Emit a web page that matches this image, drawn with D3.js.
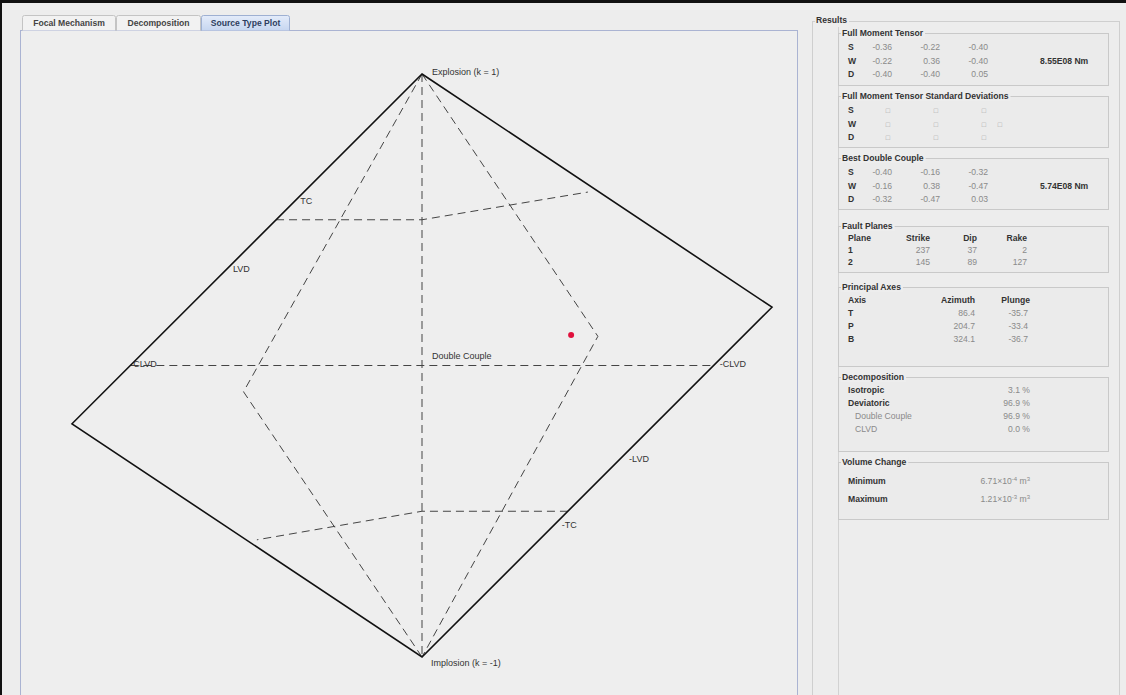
<!DOCTYPE html>
<html><head><meta charset="utf-8">
<script src="https://cdn.jsdelivr.net/npm/d3@7"></script>
<style>
html,body{margin:0;padding:0;background:#ededed;}
svg{display:block;}
</style></head>
<body><svg id="chart" width="1126" height="695"></svg>
<script>
// ---- Source-type plot geometry, in (u, v) space: v = k, u = skewed T axis ----
const boundary   = [[0, 1], [4/3, 0.2], [0, -1], [-4/3, -0.2]];
const kAxis      = [[0, 1], [0, -1]];
const clvdAxis   = [[-10/9, 0], [10/9, 0]];
const upperK     = [[-0.556, 0.5], [0, 0.5], [0.632, 0.595]];
const lowerK     = [[0.556, -0.5], [0, -0.5], [-0.629, -0.598]];
const rightT     = [[0, 1], [0.67, 0.1], [0, -1]];
const leftT      = [[0, 1], [-0.68, -0.09], [0, -1]];
const sourcePoint = [0.568, 0.105];

const pointNames = ["Explosion (k = 1)", "Implosion (k = -1)", "Double Couple", "CLVD", "-CLVD", "TC", "LVD", "-LVD", "-TC"];
const pointU     = [0, 0, 0, -10/9, 10/9, -0.494, -0.747, 0.747, 0.494];
const pointV     = [1, -1, 0, 0, 0, 0.56, 0.328, -0.328, -0.56];

// ---- Results panel values ----
const tensorRows = ["S", "W", "D"];
const fullMT  = [[-0.36, -0.22, -0.40], [-0.22, 0.36, -0.40], [-0.40, -0.40, 0.05]];
const fullM0  = "8.55E08 Nm";
const bestDC  = [[-0.40, -0.16, -0.32], [-0.16, 0.38, -0.47], [-0.32, -0.47, 0.03]];
const dcM0    = "5.74E08 Nm";
const planeHeader = ["Plane", "Strike", "Dip", "Rake"];
const faultPlanes = [[1, 237, 37, 2], [2, 145, 89, 127]];
const axesHeader  = ["Axis", "Azimuth", "Plunge"];
const axisNames   = ["T", "P", "B"];
const axisAzimuth = [86.4, 204.7, 324.1];
const axisPlunge  = [-35.7, -33.4, -36.7];
const decompNames = ["Isotropic", "Deviatoric", "Double Couple", "CLVD"];
const decompPct   = [3.1, 96.9, 96.9, 0.0];
const volumeNames = ["Minimum", "Maximum"];
const volumeMant  = ["6.71", "1.21"];
const volumeExp   = ["-4", "-3"];
const tabNames    = ["Focal Mechanism", "Decomposition", "Source Type Plot"];

const loc = d3.formatLocale({decimal: ".", thousands: ",", grouping: [3], currency: ["", ""], minus: "-"});
const f2 = loc.format(".2f"), f1 = loc.format(".1f");

const svg = d3.select("#chart");
const FONT = "'Liberation Sans', Arial, sans-serif";

// window frame
svg.append("rect").attr("x", 0).attr("y", 0).attr("width", 1126).attr("height", 695).attr("fill", "#ededed");
svg.append("rect").attr("x", 0).attr("y", 0).attr("width", 1126).attr("height", 3).attr("fill", "#111");
svg.append("rect").attr("x", 0).attr("y", 0).attr("width", 2).attr("height", 695).attr("fill", "#111");

// ---- tabbed pane ----
svg.append("rect").attr("x", 20.5).attr("y", 30.5).attr("width", 777).attr("height", 700)
  .attr("fill", "#eeeeee").attr("stroke", "#aab3d2");
const tabX = [22, 116, 201, 290];
const defs = svg.append("defs");
const g1 = defs.append("linearGradient").attr("id", "selTab").attr("x1", 0).attr("y1", 0).attr("x2", 0).attr("y2", 1);
g1.append("stop").attr("offset", 0).attr("stop-color", "#e4ecfa");
g1.append("stop").attr("offset", 1).attr("stop-color", "#c6d6f0");
tabNames.forEach((name, i) => {
  const sel = i === 2;
  svg.append("path")
    .attr("d", `M${tabX[i] + 0.5},30.5 V17.5 Q${tabX[i] + 0.5},15.5 ${tabX[i] + 2.5},15.5 H${tabX[i + 1] - 2.5} Q${tabX[i + 1] - 0.5},15.5 ${tabX[i + 1] - 0.5},17.5 V30.5`)
    .attr("fill", sel ? "url(#selTab)" : "#f2f2f2").attr("stroke", sel ? "#9eb0d2" : "#c4c4c4");
  svg.append("text").attr("x", (tabX[i] + tabX[i + 1]) / 2).attr("y", 26)
    .attr("text-anchor", "middle").attr("font-family", FONT).attr("font-weight", "bold")
    .attr("font-size", 8.6).attr("fill", sel ? "#2d3e60" : "#444").text(name);
});

// ---- source-type plot ----
const x = d3.scaleLinear().domain([-4/3, 4/3]).range([72, 772]);
const y = d3.scaleLinear().domain([-1, 1]).range([657, 74]);
const line = d3.line().x(d => x(d[0])).y(d => y(d[1]));
const plot = svg.append("g");

[kAxis, clvdAxis, upperK, lowerK, rightT, leftT].forEach(pts => {
  plot.append("path").attr("d", line(pts)).attr("fill", "none")
    .attr("stroke", "#444").attr("stroke-width", 1).attr("stroke-dasharray", "8,5");
});
plot.append("path").attr("d", line(boundary) + "Z").attr("fill", "none")
  .attr("stroke", "#111").attr("stroke-width", 1.6).attr("stroke-linejoin", "miter");

// label offsets in pixels from each named point
const labelOffset = {
  "Explosion (k = 1)": [10, 1], "Implosion (k = -1)": [9, 9], "Double Couple": [10, -7],
  "CLVD": [3, 1], "-CLVD": [6, 1], "TC": [8, 2], "LVD": [7, 2], "-LVD": [11, 1], "-TC": [10, -1]
};
pointNames.forEach((name, i) => {
  const o = labelOffset[name];
  plot.append("text").attr("x", x(pointU[i]) + o[0]).attr("y", y(pointV[i]) + o[1])
    .attr("font-family", FONT).attr("font-size", 9).attr("fill", "#333").text(name);
});

plot.append("circle").attr("cx", x(sourcePoint[0])).attr("cy", y(sourcePoint[1])).attr("r", 3)
  .attr("fill", "#e0103c");

// ---- Results panel ----
const rp = svg.append("g").attr("font-family", FONT);
rp.append("rect").attr("x", 812.5).attr("y", 21.5).attr("width", 307).attr("height", 700)
  .attr("fill", "none").attr("stroke", "#cfcfcf");
rp.append("line").attr("x1", 838.5).attr("x2", 838.5).attr("y1", 27).attr("y2", 695)
  .attr("stroke", "#d2d2d2");
rp.append("rect").attr("x", 815).attr("y", 15).attr("width", 34).attr("height", 10).attr("fill", "#ededed");
rp.append("text").attr("x", 816).attr("y", 23).attr("font-weight", "bold").attr("font-size", 8.6)
  .attr("fill", "#333").text("Results");

function groupBox(top, bottom, title) {
  rp.append("rect").attr("x", 838.5).attr("y", top + 0.5).attr("width", 270).attr("height", bottom - top)
    .attr("fill", "#ebebeb").attr("stroke", "#c9c9c9");
  const t = rp.append("text").attr("x", 842).attr("y", top + 3).attr("font-weight", "bold")
    .attr("font-size", 8.6).attr("fill", "#333").text(title);
  const w = t.node().getComputedTextLength();
  rp.insert("rect", () => t.node()).attr("x", 841).attr("y", top - 5).attr("width", w + 3).attr("height", 10)
    .attr("fill", "#ededed");
}
function label(xp, yp, txt, bold, anchor, color) {
  return rp.append("text").attr("x", xp).attr("y", yp).attr("font-size", 8.6)
    .attr("font-weight", bold ? "bold" : "normal").attr("text-anchor", anchor || "start")
    .attr("fill", color || (bold ? "#333" : "#8a8a8a")).text(txt);
}
const colEnd = [892, 940, 988];

function tensorBox(top, bottom, title, m, m0) {
  groupBox(top, bottom, title);
  tensorRows.forEach((r, i) => {
    const yy = top + 17 + i * 13.5;
    label(848, yy, r, true);
    colEnd.forEach((cx, j) => label(cx, yy, f2(m[i][j]), false, "end"));
    if (i === 1) label(1040, yy, m0, true);
  });
}
tensorBox(33, 85, "Full Moment Tensor", fullMT, fullM0);

groupBox(96, 147, "Full Moment Tensor Standard Deviations");
tensorRows.forEach((r, i) => {
  const yy = 96 + 17 + i * 13.5;
  label(848, yy, r, true);
  colEnd.forEach(cx => label(cx - 2, yy, "\u25A1", false, "end", "#a0a0a0").attr("font-size", 7));
  if (i === 1) label(1002, yy, "\u25A1", false, "end", "#a0a0a0").attr("font-size", 7);
});

tensorBox(158, 209, "Best Double Couple", bestDC, dcM0);

groupBox(226, 272, "Fault Planes");
const fpCols = [[848, "start"], [930, "end"], [977, "end"], [1027, "end"]];
planeHeader.forEach((h, j) => label(fpCols[j][0], 241, h, true, fpCols[j][1]));
faultPlanes.forEach((row, i) => {
  row.forEach((v, j) => label(fpCols[j][0], 253 + i * 12, String(v), j === 0, fpCols[j][1]));
});

groupBox(287, 366, "Principal Axes");
label(848, 303, axesHeader[0], true);
label(975, 303, axesHeader[1], true, "end");
label(1030, 303, axesHeader[2], true, "end");
axisNames.forEach((a, i) => {
  const yy = 316 + i * 13;
  label(848, yy, a, true);
  label(975, yy, f1(axisAzimuth[i]), false, "end");
  label(1028, yy, f1(axisPlunge[i]), false, "end");
});

groupBox(377, 451, "Decomposition");
decompNames.forEach((n, i) => {
  const yy = 393 + i * 13;
  const main = i < 2;
  label(main ? 848 : 855, yy, n, main);
  label(1030, yy, f1(decompPct[i]) + " %", false, "end");
});

groupBox(462, 519, "Volume Change");
volumeNames.forEach((n, i) => {
  const yy = 484 + i * 18;
  label(848, yy, n, true);
  const t = label(1030, yy, "", false, "end");
  t.append("tspan").text(volumeMant[i] + "\u00D710");
  t.append("tspan").attr("dy", -3).attr("font-size", 6).text(volumeExp[i]);
  t.append("tspan").attr("dy", 3).text(" m");
  t.append("tspan").attr("dy", -3).attr("font-size", 6).text("3");
});
</script>
</body></html>
